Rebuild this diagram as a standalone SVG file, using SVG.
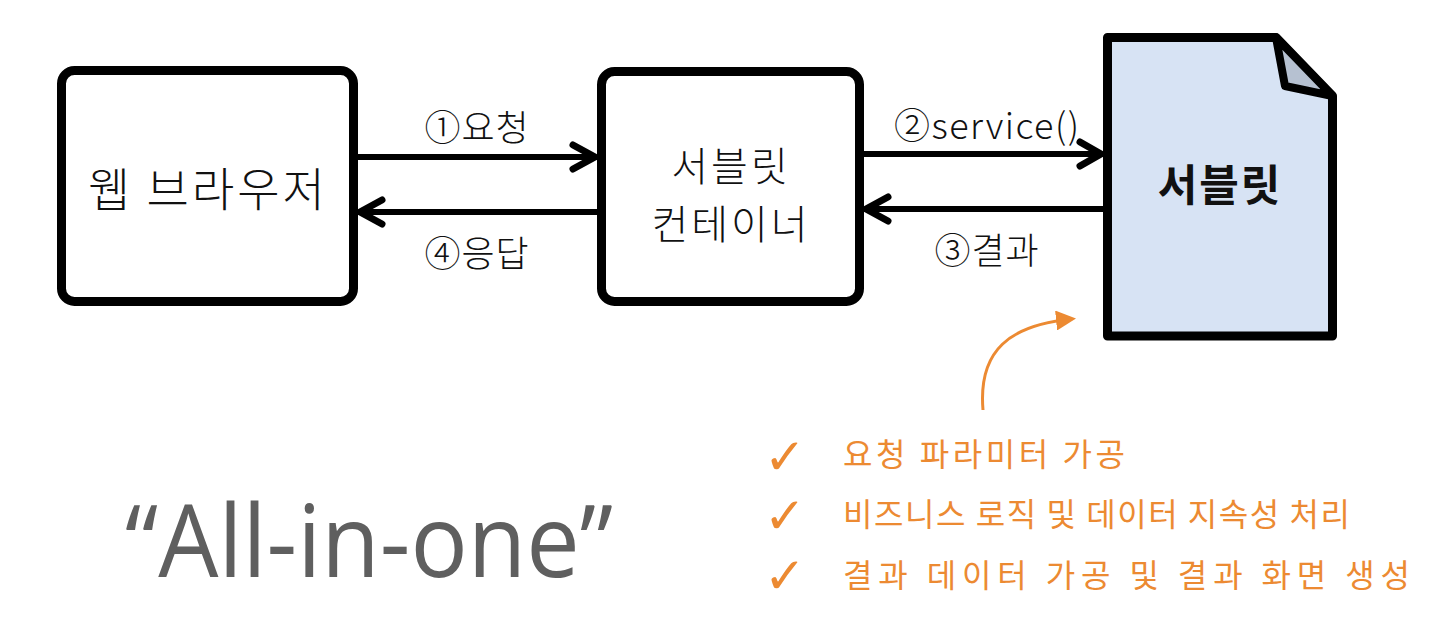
<svg xmlns="http://www.w3.org/2000/svg" width="1436" height="642" viewBox="0 0 1436 642">
<style>
.box{fill:#ffffff;stroke:#000;stroke-width:9;stroke-linejoin:round}
.doc{fill:#d7e3f4;stroke:#000;stroke-width:9;stroke-linejoin:round}
.lbl{font-family:"Noto Sans CJK KR","Noto Sans",sans-serif;fill:#111;font-weight:300}
.big{font-size:43px;text-anchor:middle;letter-spacing:2px}
.edge{font-size:36px;text-anchor:middle;letter-spacing:1px}
.ln{fill:none;stroke:#000;stroke-width:6}
.hd{fill:none;stroke:#000;stroke-width:7;stroke-linecap:round;stroke-linejoin:round}
.or{font-family:"Noto Sans CJK KR","Noto Sans",sans-serif;font-size:32px;fill:#ec8a32;font-weight:400}
.ck{font-family:"DejaVu Sans",sans-serif;font-size:50px;font-weight:bold;fill:#ec8a32}
</style>
<defs>
<marker id="oh" viewBox="0 0 10 10" refX="8" refY="5" markerWidth="20" markerHeight="20" orient="auto" markerUnits="userSpaceOnUse">
<path d="M0,0 L10,5 L0,10 Z" fill="#ec8a32"/>
</marker>
</defs>
<rect width="1436" height="642" fill="#ffffff"/>
<g id="browser">
<rect class="box" x="61.5" y="70.5" width="292" height="231" rx="13"/>
<text class="lbl big" x="208" y="206" style="font-size:46px;letter-spacing:3px">웹 브라우저</text>
</g>
<g id="container">
<rect class="box" x="601.5" y="71.5" width="258" height="230" rx="13"/>
<text class="lbl big" x="731" y="181" style="font-size:40px;letter-spacing:3px">서블릿</text>
<text class="lbl big" x="731" y="239" style="font-size:40px;letter-spacing:3px">컨테이너</text>
</g>
<g id="servlet">
<path class="doc" d="M1107.5,37.5 L1276,37.5 L1332.5,96 L1332.5,336 L1107.5,336 Z"/>
<path d="M1276,37.5 L1285,86 L1332.5,96 Z" fill="#b6c1d1" stroke="#000" stroke-width="8" stroke-linejoin="round"/>
<text class="lbl big" x="1220" y="201" style="font-weight:bold">서블릿</text>
</g>
<g id="connectors">
<line class="ln" x1="358" y1="157" x2="594" y2="157"/>
<path class="hd" d="M573,145 L595,157 L573,169"/>
<line class="ln" x1="597" y1="212" x2="361" y2="212"/>
<path class="hd" d="M382,200 L360,212 L382,224"/>
<line class="ln" x1="864" y1="154" x2="1100" y2="154"/>
<path class="hd" d="M1080,142 L1101,154 L1080,166"/>
<line class="ln" x1="1103" y1="209" x2="867" y2="209"/>
<path class="hd" d="M888,197 L866,209 L888,221"/>
<path d="M983,410 C978,350 1010,325 1072,319" fill="none" stroke="#ec8a32" stroke-width="3" marker-end="url(#oh)"/>
</g>
<g id="edge-labels">
<text class="lbl edge" x="477" y="141">①요청</text>
<text class="lbl edge" x="477" y="267">④응답</text>
<text class="lbl edge" x="987" y="139" textLength="186" lengthAdjust="spacing">②service()</text>
<text class="lbl edge" x="987" y="264">③결과</text>
</g>
<g id="notes">
<text class="ck" x="764" y="474">✓</text>
<text class="ck" x="764" y="533">✓</text>
<text class="ck" x="764" y="593">✓</text>
<text class="or" x="843" y="466" textLength="282" lengthAdjust="spacing">요청 파라미터 가공</text>
<text class="or" x="843" y="526" textLength="507" lengthAdjust="spacing">비즈니스 로직 및 데이터 지속성 처리</text>
<text class="or" x="843" y="587" textLength="567" lengthAdjust="spacing">결과 데이터 가공 및 결과 화면 생성</text>
</g>
<g id="allinone">
<text x="125" y="577" font-family="Open Sans, DejaVu Sans, sans-serif" font-weight="400" font-size="100" fill="#5f5f5f" textLength="488" lengthAdjust="spacingAndGlyphs">“All-in-one”</text>
</g>
</svg>
